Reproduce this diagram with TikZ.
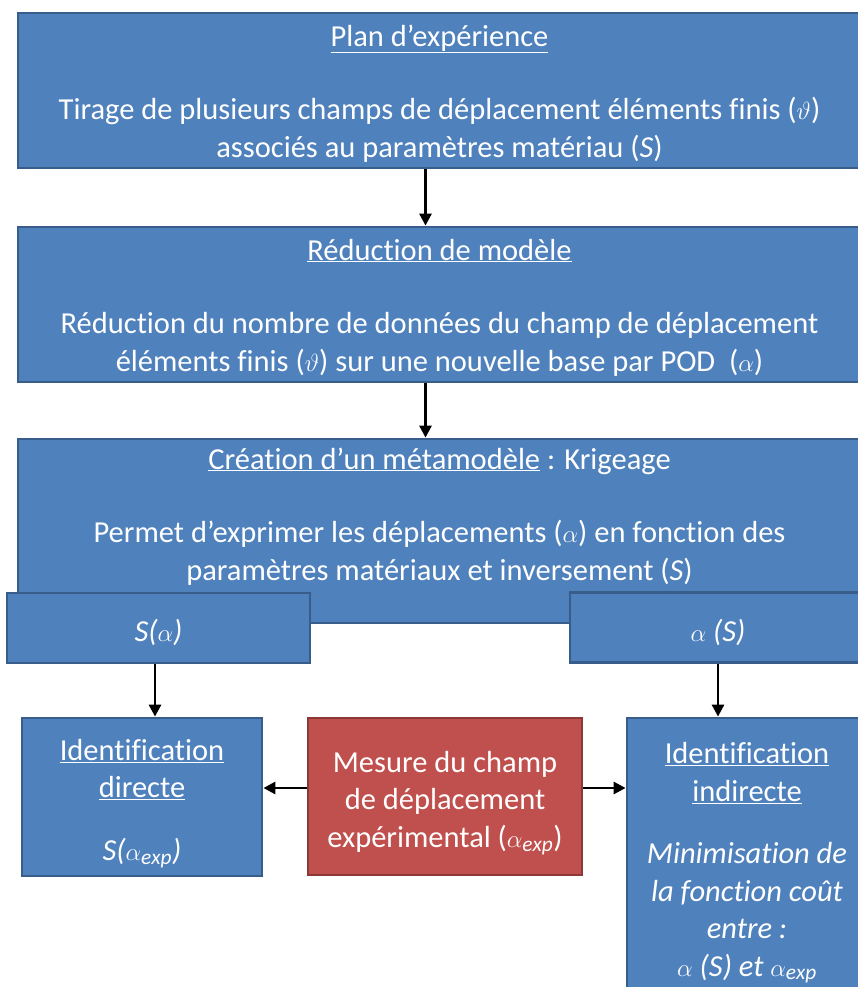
\documentclass[tikz,border=0pt]{standalone}
\usepackage{fontspec}
\setmainfont{Carlito}[Ligatures=NoCommon]
\usetikzlibrary{arrows.meta}

\definecolor{boiteBleue}{HTML}{4F81BD}
\definecolor{bordBleu}{HTML}{385D8A}
\definecolor{boiteRouge}{HTML}{C0504D}
\definecolor{bordRouge}{HTML}{8C3836}

% espace au-dessus de la premiere ligne
\newcommand{\hautligne}[1]{\rule{0pt}{#1}}
% espace sous la derniere ligne
\newcommand{\basligne}[1]{\rule[-#1]{0pt}{1pt}}

\tikzset{
    boite/.style={draw=bordBleu, fill=boiteBleue, line width=2.8pt, text=white,
        align=center, inner ysep=2pt, font=\fontsize{30.5}{37.5}\selectfont},
    boiteRouge/.style={boite, draw=bordRouge, fill=boiteRouge},
    fleche/.style={->, line width=2.8pt, black}
}

\begin{document}
\begin{tikzpicture}[x=1pt, y=-1pt, >={Triangle[length=12pt, width=12pt]}]
    \useasboundingbox (0, 0) rectangle (858, 987);
    \clip (0, 0) rectangle (858, 987);

    % Les trois grandes etapes
    \node[boite, minimum width=843, minimum height=155] (plan) at (439.5, 90.5)
        {\hautligne{27pt}\underline{Plan d’expérience}\\[36pt]
         Tirage de plusieurs champs de déplacement éléments finis ($\vartheta$)\\
         associés au paramètres matériau (\textit{S})};
    \node[boite, minimum width=843, minimum height=155] (reduction) at (439.5, 304.5)
        {\hautligne{27pt}\underline{Réduction de modèle}\\[36pt]
         Réduction du nombre de données du champ de déplacement\\
         éléments finis ($\vartheta$) sur une nouvelle base par POD~ ($\alpha$)};
    \node[boite, minimum width=843, minimum height=184] (meta) at (439.5, 531)
        {\hautligne{25pt}\underline{Création d’un métamodèle} : Krigeage\\[36pt]
         Permet d’exprimer les déplacements ($\alpha$) en fonction des\\
         paramètres matériaux et inversement (\textit{S})\basligne{38pt}};

    % Les deux sorties du metamodele
    \node[boite, minimum width=303, minimum height=70] (salpha) at (158.5, 628)
        {\hautligne{32pt}\itshape S($\alpha$)};
    \node[boite, minimum width=296, minimum height=70] (alphas) at (718, 627.5)
        {\hautligne{32pt}\itshape $\alpha$ (S)};

    % Identifications et mesure
    \node[boite, minimum width=240, minimum height=158] (directe) at (142, 797)
        {\hautligne{34pt}\underline{Identification}\\ \underline{directe}\\[25pt]
         \itshape S($\alpha_{\mathit{exp}}$)};
    \node[boiteRouge, minimum width=274, minimum height=157] (mesure) at (445, 796.5)
        {\hautligne{34pt}Mesure du champ\\ de déplacement\\ expérimental ($\alpha_{\mathit{exp}}$)};
    \node[boite, minimum width=240, minimum height=277] (indirecte) at (747, 856.5)
        {\hautligne{34pt}\underline{Identification}\\ \underline{indirecte}\\[25pt]
         \itshape Minimisation de\\ \itshape la fonction coût\\ \itshape entre :\\
         \itshape $\alpha$ (S) et $\alpha_{\mathit{exp}}$};

    % Fleches verticales
    \draw[fleche] ([xshift=-14pt]plan.south) -- ([xshift=-14pt]reduction.north);
    \draw[fleche] ([xshift=-14pt]reduction.south) -- ([xshift=-14pt]meta.north);
    \draw[fleche] ([xshift=-3.5pt]salpha.south) -- ([xshift=-3.5pt]salpha.south |- directe.north);
    \draw[fleche] (alphas.south) -- (alphas.south |- indirecte.north);

    % Fleches depuis la mesure
    \draw[fleche] ([yshift=8.5pt]mesure.west) -- ([yshift=8.5pt]mesure.west -| directe.east);
    \draw[fleche] ([yshift=8.5pt]mesure.east) -- ([yshift=8.5pt]mesure.east -| indirecte.west);

\end{tikzpicture}
\end{document}
